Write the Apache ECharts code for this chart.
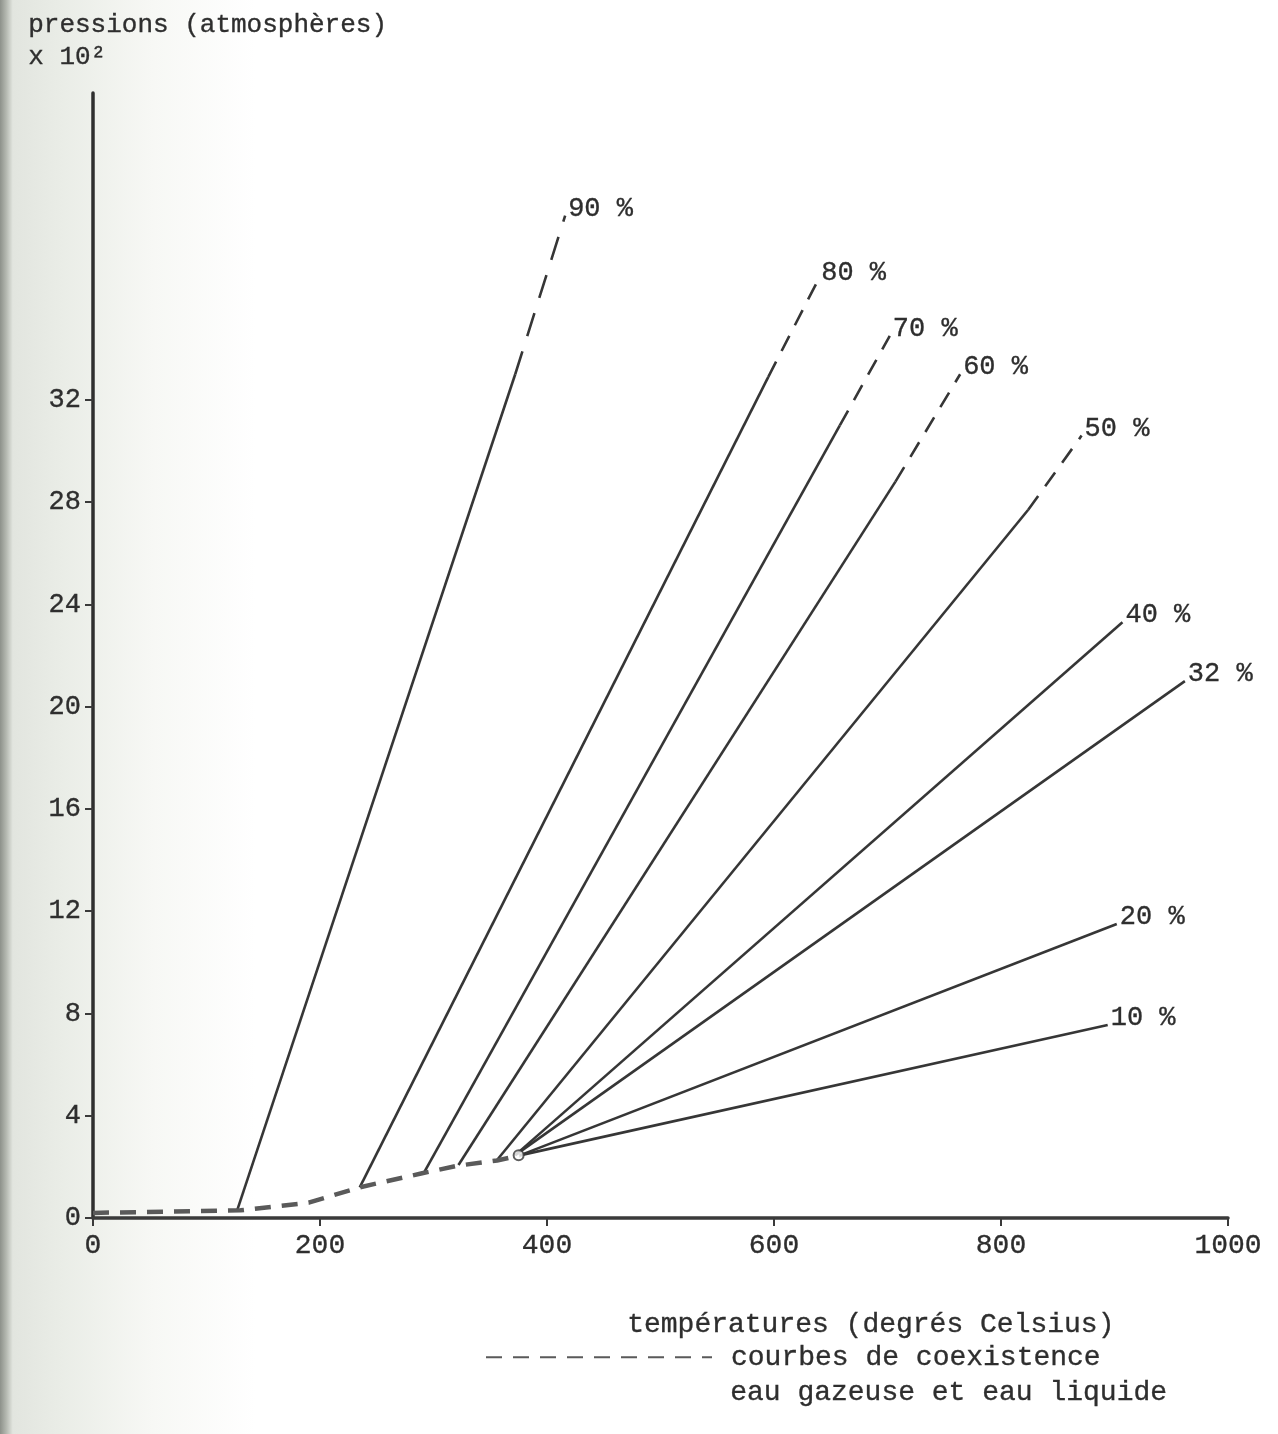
<!DOCTYPE html>
<html>
<head>
<meta charset="utf-8">
<script src="https://cdn.jsdelivr.net/npm/echarts@6/dist/echarts.min.js"></script>
<style>
html,body{margin:0;padding:0;background:#fff;}
#chart{width:1278px;height:1434px;}
</style>
</head>
<body>
<div id="chart"></div>
<script>
// ---- data (temperature °C, pressure in atm x 10^2) ----
const curveLabels = ['90 %', '80 %', '70 %', '60 %', '50 %', '40 %', '32 %', '20 %', '10 %'];
const startT = [127, 235, 292, 322, 356, 372, 372, 376, 376];
const startP = [0.3, 1.2, 1.8, 2.07, 2.27, 2.46, 2.46, 2.45, 2.45];
const breakT = [372, 595, 658, 707, 824, 907, 962, 902, 894];
const breakP = [33.0, 32.9, 31.0, 28.8, 27.7, 23.3, 21.0, 11.5, 7.55];
const endT = [416, 639, 702, 764, 871, null, null, null, null];
const endP = [39.2, 36.7, 34.5, 33.0, 30.6, null, null, null, null];

const coexT = [0, 65, 130, 190, 235, 290, 322, 356, 376];
const coexP = [0.2, 0.25, 0.3, 0.6, 1.2, 1.75, 2.05, 2.25, 2.45];
const knotT = [375];
const knotP = [2.45];

const xTicks = [0, 200, 400, 600, 800, 1000];
const yTicks = [0, 4, 8, 12, 16, 20, 24, 28, 32];

const FONT = 'Liberation Mono';
const INK = '#363636';
const TXT = '#2e2e2e';
const heavy = {textBorderColor: TXT, textBorderWidth: 0.35};

const series = [];
series.push({
  name: 'courbes de coexistence',
  type: 'line',
  data: coexT.map((t, i) => [t, coexP[i]]),
  symbol: 'none',
  itemStyle: {color: '#5a5a5a'},
  lineStyle: {color: '#5a5a5a', width: 4.5, type: [16, 11]},
  z: 3
});
curveLabels.forEach((lab, i) => {
  const hasDash = endT[i] !== null;
  const lbl = Object.assign({
    show: true, formatter: lab, color: TXT, fontFamily: FONT, fontSize: 27,
    distance: 3, offset: [0, -7]
  }, heavy);
  series.push({
    name: lab,
    type: 'line',
    data: [[startT[i], startP[i]], [breakT[i], breakP[i]]],
    symbol: 'none',
    lineStyle: {color: INK, width: 2.6},
    endLabel: hasDash ? {show: false} : lbl,
    z: 2
  });
  if (hasDash) {
    series.push({
      name: lab + ' (extrapolé)',
      type: 'line',
      data: [[breakT[i], breakP[i]], [endT[i], endP[i]]],
      symbol: 'none',
      lineStyle: {color: INK, width: 2.6, type: i === 0 ? [24, 16] : [17, 12]},
      endLabel: lbl,
      z: 2
    });
  }
});
series.push({
  name: 'noeud',
  type: 'scatter',
  data: knotT.map((t, i) => [t, knotP[i]]),
  symbol: 'emptyCircle',
  symbolSize: 10,
  itemStyle: {color: INK, borderColor: INK, borderWidth: 3.5},
  z: 4
});

const chart = echarts.init(document.getElementById('chart'), null, {renderer: 'canvas'});
chart.setOption({
  animation: false,
  backgroundColor: {
    type: 'linear', x: 0, y: 0, x2: 1, y2: 0,
    colorStops: [
      {offset: 0, color: '#8d918a'},
      {offset: 0.005, color: '#b5b9b1'},
      {offset: 0.01, color: '#e2e5df'},
      {offset: 0.05, color: '#eaede7'},
      {offset: 0.12, color: '#f7f8f5'},
      {offset: 0.2, color: '#ffffff'},
      {offset: 1, color: '#ffffff'}
    ]
  },
  grid: {left: 93, right: 50, top: 93, bottom: 216, containLabel: false},
  xAxis: {
    type: 'value', min: 0, max: 1000, interval: 200,
    axisLine: {lineStyle: {color: '#3a3a3a', width: 3.5}},
    axisTick: {show: true, length: 8, lineStyle: {color: '#3a3a3a', width: 2}},
    axisLabel: Object.assign({color: TXT, fontFamily: FONT, fontSize: 28, margin: 14, customValues: xTicks,
      formatter: v => String(v)}, heavy),
    splitLine: {show: false}
  },
  yAxis: {
    type: 'value', min: 0, max: 44, interval: 4,
    axisLine: {show: true, onZero: false, lineStyle: {color: '#2f2f2f', width: 3.5}},
    axisTick: {show: true, length: 8, lineStyle: {color: '#3a3a3a', width: 2}, customValues: yTicks},
    axisLabel: Object.assign({color: TXT, fontFamily: FONT, fontSize: 27, margin: 12, customValues: yTicks,
      formatter: v => String(v)}, heavy),
    splitLine: {show: false}
  },
  legend: {
    data: ['courbes de coexistence'],
    left: 480, top: 1338,
    itemWidth: 226, itemHeight: 14, itemGap: 0,
    itemStyle: {opacity: 0},
    textStyle: Object.assign({color: TXT, fontFamily: FONT, fontSize: 28, padding: [0, 0, 0, 14]}, heavy)
  },
  graphic: [
    {type: 'text', left: 28, top: 12,
      style: {text: 'pressions (atmosphères)', font: '26px "Liberation Mono"', fill: TXT, stroke: TXT, lineWidth: 0.35}},
    {type: 'text', left: 28, top: 44,
      style: {text: 'x 10²', font: '26px "Liberation Mono"', fill: TXT, stroke: TXT, lineWidth: 0.35}},
    {type: 'text', left: 627, top: 1310,
      style: {text: 'températures (degrés Celsius)', font: '28px "Liberation Mono"', fill: TXT, stroke: TXT, lineWidth: 0.35}},
    {type: 'text', left: 730, top: 1378,
      style: {text: 'eau gazeuse et eau liquide', font: '28px "Liberation Mono"', fill: TXT, stroke: TXT, lineWidth: 0.35}}
  ],
  series: series
});
</script>
</body>
</html>
